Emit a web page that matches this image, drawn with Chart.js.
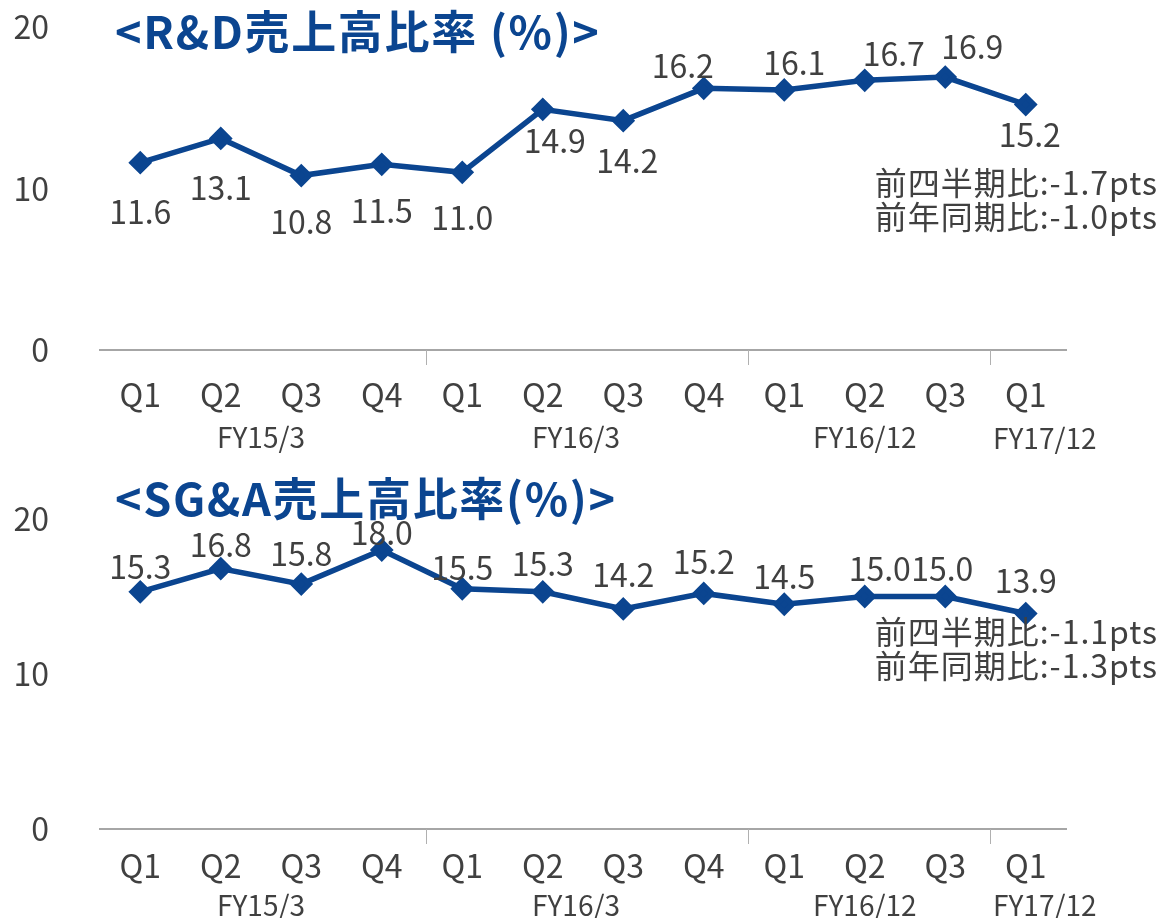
<!DOCTYPE html>
<html lang="ja">
<head>
<meta charset="UTF-8" />
<title>R&D / SG&A 売上高比率</title>
<script src="https://cdn.jsdelivr.net/npm/chart.js"></script>
<style>
  body { margin: 0; width: 1163px; height: 918px; position: relative; background: #fff; overflow: hidden;
         font-family: "Noto Sans CJK JP", "Noto Sans", sans-serif; color: #404040; }
  .title { position: absolute; left: 115px; font-size: 45px; font-weight: bold; color: #0b4590; line-height: 1;
           letter-spacing: 1.7px; white-space: nowrap; }
  .note { position: absolute; right: 5px; font-size: 32px; line-height: 34px; letter-spacing: 1px; text-align: right; white-space: nowrap; }
  canvas { position: absolute; left: 0; }
</style>
</head>
<body>
  <canvas id="rdChart" width="1163" height="460" style="top:0"></canvas>
  <canvas id="sgaChart" width="1163" height="458" style="top:460px"></canvas>

  <div class="title" style="top:7px">&lt;R&amp;D売上高比率 (%)&gt;</div>
  <div class="note" style="top:164px">前四半期比:-1.7pts<br>前年同期比:-1.0pts</div>

  <div class="title" style="top:474px">&lt;SG&amp;A売上高比率(%)&gt;</div>
  <div class="note" style="top:613px">前四半期比:-1.1pts<br>前年同期比:-1.3pts</div>

<script>
// data
const quarters = ['Q1', 'Q2', 'Q3', 'Q4', 'Q1', 'Q2', 'Q3', 'Q4', 'Q1', 'Q2', 'Q3', 'Q1'];
const fiscalYears = ['FY15/3', 'FY16/3', 'FY16/12', 'FY17/12'];
const fyFirst = [0, 4, 8, 11];
const fyLast = [3, 7, 10, 11];
const rdRatio = [11.6, 13.1, 10.8, 11.5, 11.0, 14.9, 14.2, 16.2, 16.1, 16.7, 16.9, 15.2];
const sgaRatio = [15.3, 16.8, 15.8, 18.0, 15.5, 15.3, 14.2, 15.2, 14.5, 15.0, 15.0, 13.9];
const yTicks = [0, 10, 20];

const BLUE = '#0b4590';
const TEXT = '#404040';
const FONT = '"Noto Sans CJK JP", "Noto Sans", sans-serif';

// value labels + fiscal year groups under the axis
const annotatePlugin = {
  id: 'annotate',
  afterDraw(chart, args, opts) {
    const ctx = chart.ctx;
    const x = chart.scales.x;
    const meta = chart.getDatasetMeta(0);
    const vals = chart.data.datasets[0].data;
    ctx.save();
    ctx.fillStyle = TEXT;
    ctx.textAlign = 'center';
    ctx.textBaseline = 'middle';
    ctx.font = '32px ' + FONT;
    meta.data.forEach((pt, i) => {
      ctx.fillText(vals[i].toFixed(1), pt.x + opts.dx[i], pt.y + opts.dy[i]);
    });

    // boundary ticks between fiscal years
    const axisY = chart.chartArea.bottom;
    ctx.strokeStyle = '#b0b0b0';
    ctx.lineWidth = 1;
    fyFirst.slice(1).forEach(b => {
      const bx = Math.round((x.getPixelForValue(b - 1) + x.getPixelForValue(b)) / 2) + 4.5;
      ctx.beginPath();
      ctx.moveTo(bx, axisY);
      ctx.lineTo(bx, axisY + 15);
      ctx.stroke();
    });

    ctx.font = '28px ' + FONT;
    fiscalYears.forEach((fy, g) => {
      const cx = (x.getPixelForValue(fyFirst[g]) + x.getPixelForValue(fyLast[g])) / 2;
      ctx.fillText(fy, cx + opts.fyDx[g], axisY + opts.fyY[g]);
    });
    ctx.restore();
  }
};

function makeChart(id, values, padTop, xHeight, tickPad, labelOpts) {
  return new Chart(document.getElementById(id), {
    type: 'line',
    data: {
      labels: quarters,
      datasets: [{
        data: values,
        borderColor: BLUE,
        backgroundColor: BLUE,
        borderWidth: 5.5,
        pointStyle: 'rectRot',
        pointRadius: 8,
        pointBackgroundColor: BLUE,
        pointBorderColor: BLUE,
        tension: 0
      }]
    },
    options: {
      responsive: false,
      animation: false,
      layout: { padding: { top: padTop, right: 97, left: 0, bottom: 0 } },
      plugins: {
        legend: { display: false },
        tooltip: { enabled: false },
        annotate: labelOpts
      },
      scales: {
        x: {
          offset: true,
          grid: { display: false },
          border: { display: true, color: '#a6a6a6', width: 2 },
          ticks: { color: TEXT, font: { size: 32, family: FONT }, padding: tickPad, maxRotation: 0, autoSkip: false },
          afterFit(s) { s.height = xHeight; }
        },
        y: {
          min: 0,
          max: 20,
          grid: { display: false },
          border: { display: false },
          afterBuildTicks(s) { s.ticks = yTicks.map(v => ({ value: v })); },
          ticks: { color: TEXT, font: { size: 32, family: FONT }, padding: 43 },
          afterFit(s) {
            s.width = 100;
            s.paddingTop = 0;
            s.paddingBottom = 0;
          }
        }
      }
    },
    plugins: [annotatePlugin]
  });
}

makeChart('rdChart', rdRatio, 27, 110, 18, {
  dx: [0, 0, 0, 0, 0, 12, 4, -21, 10, 29, 27, 4],
  dy: [49, 49, 46, 47, 45, 31, 40, -23, -27, -26, -30, 30],
  fyDx: [0, -7, 0, 19],
  fyY: [87, 87, 87, 88]
});

makeChart('sgaChart', sgaRatio, 59, 89, 10, {
  dx: [0, 0, 0, 0, 0, 0, 0, 0, 0, 15, -3, 0],
  dy: [-25, -24, -30, -17, -21, -28, -34, -32, -27, -28, -28, -33],
  fyDx: [0, -7, 0, 19],
  fyY: [76, 76, 76, 76]
});
</script>
</body>
</html>
